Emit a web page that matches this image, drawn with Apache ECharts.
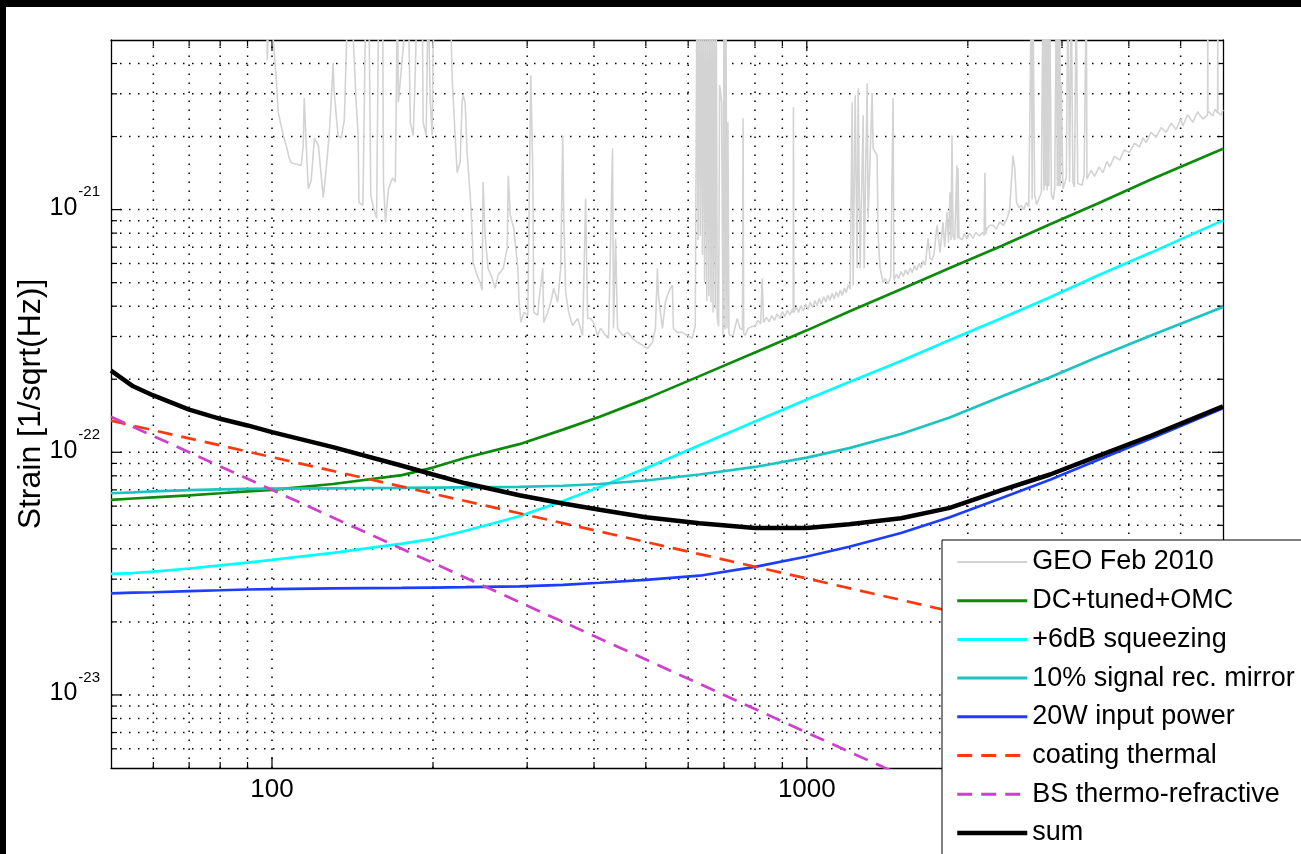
<!DOCTYPE html>
<html>
<head>
<meta charset="utf-8">
<title>GEO sensitivity curves</title>
<script src="https://cdn.jsdelivr.net/npm/echarts@6/dist/echarts.min.js"></script>
<style>
  html, body { margin: 0; padding: 0; background: #fff; }
  #chart { width: 1301px; height: 854px; }
</style>
</head>
<body>
<div id="chart"></div>
<script>
// Strain values are stored in units of 1e-22 /sqrt(Hz); frequencies in Hz.
const STRAIN_UNIT = 1e-22;

const seriesNames = [
  'GEO Feb 2010', 'DC+tuned+OMC', '+6dB squeezing', '10% signal rec. mirror',
  '20W input power', 'coating thermal', 'BS thermo-refractive', 'sum'
];

// Frequency grid shared by the modelled noise curves
const modelFreq = [50, 55, 60, 70, 80, 90, 100, 130, 175, 200, 230, 290, 350, 410, 500, 630,
  800, 1000, 1200, 1500, 1850, 2300, 2850, 3500, 4400, 6000];

const dcTunedOmc = [0.637, 0.645, 0.652, 0.665, 0.678, 0.69, 0.70, 0.74, 0.805, 0.865, 0.95, 1.08,
  1.24, 1.40, 1.66, 2.06, 2.58, 3.18, 3.8, 4.7, 5.75, 7.05, 8.7, 10.6, 13.3, 17.8];

const squeezing6dB = [0.3155, 0.318, 0.322, 0.332, 0.342, 0.351, 0.36, 0.385, 0.42, 0.44, 0.475, 0.545,
  0.63, 0.72, 0.86, 1.07, 1.34, 1.65, 1.95, 2.38, 2.9, 3.55, 4.35, 5.35, 6.65, 9.03];

const srm10 = [0.678, 0.684, 0.69, 0.698, 0.703, 0.706, 0.708, 0.71, 0.713, 0.715, 0.717, 0.72,
  0.728, 0.74, 0.765, 0.81, 0.87, 0.95, 1.04, 1.19, 1.39, 1.69, 2.04, 2.47, 3.03, 3.97];

const inputPower20W = [0.262, 0.264, 0.265, 0.268, 0.27, 0.272, 0.273, 0.275, 0.276, 0.277, 0.278, 0.28,
  0.284, 0.29, 0.298, 0.31, 0.337, 0.372, 0.408, 0.465, 0.54, 0.645, 0.77, 0.93, 1.14, 1.52];

const sumNoise = [2.17, 1.87, 1.715, 1.50, 1.374, 1.29, 1.211, 1.05, 0.88, 0.81, 0.745, 0.665,
  0.615, 0.58, 0.54, 0.51, 0.488, 0.487, 0.505, 0.535, 0.59, 0.695, 0.81, 0.965, 1.17, 1.545];

// Straight power laws on log-log axes: [frequency, strain]
const coatingThermal = [[50, 1.35], [100, 0.955], [200, 0.675], [500, 0.427], [1000, 0.302], [2000, 0.213], [6000, 0.123]];
const bsThermoRefractive = [[50, 1.40], [100, 0.70], [200, 0.35], [500, 0.14], [1000, 0.070], [1500, 0.0467]];

// Measured GEO spectrum, February 2010: [frequency, strain]
const geoFeb2010 = [
  [97.6, 80], [98.0, 41.3], [98.9, 80], [101.9, 34.1], [102.7, 25.2], [105.0, 20.2], [106.3, 18.4],
  [107.7, 16.3], [108.6, 15.6], [113.4, 15.2], [114.4, 18.4], [114.9, 28.8], [115.9, 18.4], [116.9, 12.2],
  [118.4, 13.2], [120.0, 19.7], [122.1, 18.4], [124.7, 11.2], [126.3, 14.8], [127.9, 20.2], [129.0, 27.7],
  [130.1, 40.3], [130.7, 30.4], [132.9, 20.2], [134.7, 19.7], [136.5, 23.3], [138.8, 80], [140.6, 80],
  [143.6, 28.2], [144.9, 20.2], [145.4, 10.7], [147.9, 10.4], [149.8, 80], [151.7, 80], [153.0, 11.5],
  [154.9, 10.1], [156.9, 9.21], [158.3, 80], [161.0, 80], [161.6, 13.0], [163.0, 8.86], [165.1, 12.2],
  [168.0, 13.5], [170.1, 13.0], [171.6, 80], [172.3, 27.7], [179.8, 80], [181.4, 22.9], [183.7, 20.2],
  [185.3, 36.8], [186.9, 80], [190.9, 80], [191.7, 22.9], [194.2, 20.2], [195.9, 80], [197.6, 27.7],
  [199.3, 20.2], [200.1, 47.6], [203.6, 80], [215.3, 80], [217.2, 34.8], [220.0, 20.2], [221.9, 14.2],
  [224.8, 15.7], [226.7, 27.7], [227.7, 29.6], [229.7, 27.7], [231.6, 17.2], [234.7, 11.5], [236.7, 8.06],
  [237.7, 6.06], [241.8, 5.36], [245.0, 5.01], [247.1, 4.65], [248.1, 13.0], [250.3, 7.83], [253.5, 5.73],
  [258.0, 5.21], [261.3, 4.74], [264.7, 5.36], [270.6, 5.73], [275.3, 6.92], [276.6, 13.8], [279.0, 9.47],
  [283.2, 8.37], [288.2, 5.73], [289.5, 4.31], [292.0, 3.43], [295.8, 3.77], [300.8, 3.67], [304.7, 35.8],
  [307.3, 14.8], [308.6, 3.77], [314.0, 3.67], [315.3, 4.15], [320.8, 5.73], [322.2, 3.43], [327.8, 3.77],
  [332.0, 4.15], [336.3, 4.74], [342.2, 4.15], [346.6, 5.73], [349.6, 20.2], [351.1, 9.47], [354.1, 4.56],
  [358.7, 3.77], [364.9, 3.33], [372.8, 3.56], [380.9, 3.03], [385.8, 11.1], [389.2, 3.56], [394.2, 3.56],
  [399.3, 3.43], [406.2, 3.03], [411.5, 3.24], [420.4, 3.03], [425.9, 2.95], [433.2, 17.9], [435.1, 3.24],
  [438.9, 7.61], [442.7, 3.24], [452.3, 3.03], [462.1, 3.12], [472.1, 2.95], [482.4, 2.84], [492.8, 2.76],
  [503.5, 2.68], [514.4, 2.84], [521.1, 3.24], [525.6, 5.73], [527.9, 4.43], [537.0, 3.24], [544.0, 4.15],
  [548.7, 4.43], [555.8, 4.74], [560.6, 4.87], [563.0, 3.24], [572.8, 3.12], [585.2, 3.12], [597.7, 3.03],
  [610.7, 2.95], [618.6, 3.33],
  [621, 3.3], [623, 80], [626, 7.5], [629, 80], [632, 7.8], [635, 80], [638, 6.5], [641, 80], [644, 5.0],
  [647, 80], [650, 4.2], [653, 80], [656, 4.4], [659, 80], [662, 4.15], [665, 80], [668, 3.77], [671, 80],
  [674, 3.9], [677, 80], [680, 3.6], [684, 3.3], [687, 32.6], [690, 30], [693, 27.7], [697, 3.03], [700, 80],
  [703, 3.2], [706, 80], [709, 3.24], [712, 22.9], [715, 3.1], [719, 3.03], [728, 3.03], [741, 3.56],
  [750, 3.24], [758, 3.2], [760, 23.8], [762, 3.1], [767, 3.03], [777, 3.24], [790, 3.3],
  [800, 3.3], [810, 3.5], [820, 3.38], [825, 5.21], [830, 3.42], [840, 3.6], [850, 3.45], [860, 3.66],
  [870, 3.5], [880, 3.72], [890, 3.56], [900, 3.8], [910, 3.62], [920, 3.85], [930, 3.68], [940, 3.9],
  [943, 3.75], [944, 26.4], [946, 3.78], [955, 3.97], [965, 3.77], [975, 4.02], [985, 3.82], [995, 4.08],
  [1005, 3.88], [1015, 4.15], [1025, 3.95], [1035, 4.22], [1045, 4.02], [1055, 4.30], [1065, 4.08],
  [1075, 4.38], [1085, 4.16], [1095, 4.45], [1105, 4.22], [1115, 4.52], [1125, 4.28], [1135, 4.58],
  [1145, 4.35], [1155, 4.66], [1165, 4.43], [1175, 4.75], [1185, 4.55], [1195, 4.9], [1205, 4.7],
  [1215.6, 27.7], [1220.8, 4.87], [1231.4, 29.6], [1242, 5.73], [1247.3, 31.6], [1258.1, 5.73],
  [1274.4, 24.5], [1279.9, 5.73], [1296.5, 33.2], [1302.1, 9.21], [1324.6, 30.2], [1330.3, 17.9],
  [1353.3, 16.7], [1359.1, 7.83], [1370.8, 5.73], [1388.6, 5.01],
  [1400, 5.2], [1418.7, 4.95], [1435, 5.3], [1449.6, 28.8], [1455, 5.1], [1470, 5.42], [1485, 5.2],
  [1500, 5.55], [1515, 5.3], [1530, 5.65], [1545, 5.4], [1560, 5.75], [1575, 5.5], [1590, 5.88],
  [1605, 5.62], [1620, 6.0], [1635, 5.75], [1650, 6.15], [1665, 5.9], [1685.4, 7.61], [1700, 6.30],
  [1715, 6.2], [1730, 6.6], [1751.6, 8.62], [1774.4, 6.67], [1797.4, 8.86], [1810, 7.0], [1828.6, 9.75],
  [1840, 7.3], [1852.3, 11.8], [1860, 7.5], [1868.3, 20.2], [1876.3, 7.83], [1890, 7.5], [1908.8, 15.2],
  [1913, 7.6], [1917, 14.8], [1925, 7.7], [1933.5, 7.83], [1950, 7.5], [1970, 7.95], [1992, 7.6],
  [2015, 8.0], [2044, 7.61], [2070, 8.05], [2100, 7.8], [2134, 8.06], [2145, 7.8], [2152.7, 14.2],
  [2160, 7.9], [2171, 8.37], [2199, 8.62],
  [2229.6, 8.62], [2260, 8.3], [2294, 8.9], [2330, 8.6], [2370, 9.2], [2396, 10.1], [2429, 16.7],
  [2448, 14.8], [2467, 10.7], [2490, 10.2], [2519, 10.4], [2545, 10.0], [2573, 10.7], [2600, 10.3],
  [2629, 80], [2638, 11], [2647, 80], [2667, 11.5], [2690, 10.5], [2705, 10.7], [2745, 11.8], [2764, 80],
  [2775, 12], [2785, 80], [2795, 12.5], [2805, 80], [2815, 12], [2825, 80], [2835, 12.5], [2845, 80],
  [2866, 11.5], [2890, 11.0], [2907, 12.2], [2928, 80], [2940, 12.5], [2950, 80], [2960, 12.5], [2970, 80],
  [2980, 12.5], [2991, 33.5], [3012, 12.2], [3035, 12.0], [3056, 13.5], [3078, 80], [3100, 13], [3122, 80],
  [3144, 13.0], [3165, 12.4], [3190, 80], [3210, 12.8], [3236, 13.0],
  [3270, 12.6], [3300, 13.9], [3331, 80], [3340, 13.4], [3354, 13.2], [3400, 14.5], [3452, 13.7],
  [3520, 15.0], [3578, 14.2], [3640, 15.8], [3684, 15.0], [3760, 16.6], [3847, 16.0], [3920, 17.6],
  [4010, 17.2], [4100, 18.8], [4189, 18.1], [4250, 19.8], [4311, 18.9], [4400, 20.8], [4500, 19.9],
  [4600, 21.8], [4698, 20.8], [4800, 22.7], [4904, 21.4], [5000, 23.6], [5046, 22.1], [5150, 24.6],
  [5268, 22.9], [5380, 25.3], [5500, 23.6], [5615, 24.5], [5619, 80], [5623, 25.5], [5741, 24.3],
  [5800, 25.9], [5862, 25.0], [5866, 80], [5870, 25.2], [5951, 24.5], [6000, 25.8]
];

// Axis ticks
const xMajorTicks = [100, 1000];
const xMinorTicks = [60, 70, 80, 90, 200, 300, 400, 500, 600, 700, 800, 900, 2000, 3000, 4000, 5000];
const xTickLabels = { 100: '100', 1000: '1000' };
const yMajorTicks = [0.1, 1, 10];
const yMinorTicks = [0.06, 0.07, 0.08, 0.09, 0.2, 0.3, 0.4, 0.5, 0.6, 0.7, 0.8, 0.9,
  2, 3, 4, 5, 6, 7, 8, 9, 20, 30, 40];
const yTickLabels = { 0.1: '-23', 1: '-22', 10: '-21' };

const FONT = '"Liberation Sans", Arial, Helvetica, sans-serif';
const X_MIN = 50, X_MAX = 6000, Y_MIN = 0.05, Y_MAX = 50;

const zip = (fs, vs) => fs.map((f, i) => [f, vs[i]]);

function lineSeries(name, data, color, width, dash) {
  return {
    name, type: 'line', data,
    symbol: 'none', showSymbol: false, silent: true, clip: true,
    itemStyle: { color },
    lineStyle: { color, width, type: dash || 'solid', cap: 'butt' },
    emphasis: { disabled: true },
    z: 3
  };
}

// Line widths used for the legend samples
const legendLineWidths = [2, 3, 3, 3, 3, 3, 3, 4.5];

const dotStyle = { stroke: '#000', lineWidth: 1.5, lineDash: [1.5, 7.5] };
const tickStyle = { stroke: '#000', lineWidth: 1.2 };

// Dotted grid and inward ticks on all four sides (decades plus 2..9 subdivisions)
function renderVerticalGrid(params, api) {
  const cs = params.coordSys;
  const f = api.value(0);
  const x = api.coord([f, 1])[0];
  const len = xMajorTicks.includes(f) ? 11 : 6;
  const top = cs.y, bottom = cs.y + cs.height;
  return { type: 'group', children: [
    { type: 'line', shape: { x1: x, y1: bottom, x2: x, y2: top }, style: dotStyle },
    { type: 'line', shape: { x1: x, y1: bottom, x2: x, y2: bottom - len }, style: tickStyle },
    { type: 'line', shape: { x1: x, y1: top, x2: x, y2: top + len }, style: tickStyle }
  ]};
}
function renderHorizontalGrid(params, api) {
  const cs = params.coordSys;
  const v = api.value(1);
  const y = api.coord([100, v])[1];
  const len = yMajorTicks.includes(v) ? 11 : 6;
  const left = cs.x, right = cs.x + cs.width;
  return { type: 'group', children: [
    { type: 'line', shape: { x1: left, y1: y, x2: right, y2: y }, style: dotStyle },
    { type: 'line', shape: { x1: left, y1: y, x2: left + len, y2: y }, style: tickStyle },
    { type: 'line', shape: { x1: right, y1: y, x2: right - len, y2: y }, style: tickStyle }
  ]};
}

const axisLineStyle = { show: true, lineStyle: { color: '#000', width: 1.3 } };

const chart = echarts.init(document.getElementById('chart'), null, { renderer: 'canvas' });
chart.setOption({
  animation: false,
  backgroundColor: '#fff',
  textStyle: { fontFamily: FONT },
  grid: { left: 111, top: 40, right: 78, bottom: 86, outerBoundsMode: 'none', containLabel: false },
  graphic: [
    { type: 'rect', shape: { x: 0, y: 0, width: 1301, height: 7 }, style: { fill: '#000' }, silent: true },
    { type: 'rect', shape: { x: 0, y: 0, width: 6, height: 854 }, style: { fill: '#000' }, silent: true }
  ],
  xAxis: [
    {
      type: 'log', logBase: 10, min: X_MIN, max: X_MAX, position: 'bottom',
      axisLine: axisLineStyle, axisTick: { show: false }, splitLine: { show: false },
      axisLabel: {
        margin: 9, fontSize: 26, color: '#000', fontFamily: FONT,
        showMinLabel: false, showMaxLabel: false,
        formatter: v => xTickLabels[Math.round(v)] || ''
      }
    },
    {
      type: 'log', logBase: 10, min: X_MIN, max: X_MAX, position: 'top',
      axisLine: axisLineStyle, axisTick: { show: false }, splitLine: { show: false },
      axisLabel: { show: false }
    }
  ],
  yAxis: [
    {
      type: 'log', logBase: 10, min: Y_MIN, max: Y_MAX, position: 'left',
      axisLine: axisLineStyle, axisTick: { show: false }, splitLine: { show: false },
      name: 'Strain [1/sqrt(Hz)]', nameLocation: 'middle', nameGap: 64, nameRotate: 90,
      nameMoveOverlap: false,
      nameTextStyle: { fontSize: 32, color: '#000', fontFamily: FONT },
      axisLabel: {
        margin: 11, color: '#000', fontFamily: FONT,
        showMinLabel: false, showMaxLabel: false,
        padding: [0, 0, 14, 0],
        formatter: v => {
          const key = Object.keys(yTickLabels).find(k => Math.abs(+k - v) < 1e-9 * Math.max(1, v));
          return key ? '{b|10}{s|' + yTickLabels[key] + '}' : '';
        },
        rich: {
          b: { fontSize: 25, lineHeight: 36, verticalAlign: 'bottom', color: '#000', fontFamily: FONT },
          s: { fontSize: 15, lineHeight: 15, verticalAlign: 'top', color: '#000', fontFamily: FONT, padding: [0, 0, 0, 1] }
        }
      }
    },
    {
      type: 'log', logBase: 10, min: Y_MIN, max: Y_MAX, position: 'right',
      axisLine: axisLineStyle, axisTick: { show: false }, splitLine: { show: false },
      axisLabel: { show: false }
    }
  ],
  legend: {
    orient: 'vertical', left: 942, top: 540, height: 420,
    data: seriesNames.map((name, i) => ({ name, lineStyle: { width: legendLineWidths[i] } })),
    selectedMode: false,
    itemWidth: 70, itemHeight: 12, itemGap: 10.7,
    padding: [8, 14, 20, 13],
    backgroundColor: '#fff', borderColor: '#000', borderWidth: 1, borderRadius: 0,
    itemStyle: { opacity: 0, borderWidth: 0 },
    textStyle: { fontSize: 27, color: '#000', fontFamily: FONT, lineHeight: 28 },
    z: 10
  },
  series: [
    {
      type: 'custom', silent: true, z: 1, clip: false,
      data: xMajorTicks.concat(xMinorTicks).map(f => [f, 1]),
      encode: { x: 0, y: 1 },
      renderItem: renderVerticalGrid
    },
    {
      type: 'custom', silent: true, z: 1, clip: false,
      data: yMajorTicks.concat(yMinorTicks).map(v => [100, v]),
      encode: { x: 0, y: 1 },
      renderItem: renderHorizontalGrid
    },
    lineSeries(seriesNames[0], geoFeb2010, '#d3d3d3', 1.6),
    lineSeries(seriesNames[1], zip(modelFreq, dcTunedOmc), '#0b8a0b', 2.7),
    lineSeries(seriesNames[2], zip(modelFreq, squeezing6dB), '#00ffff', 2.7),
    lineSeries(seriesNames[3], zip(modelFreq, srm10), '#1cc3c3', 2.7),
    lineSeries(seriesNames[4], zip(modelFreq, inputPower20W), '#1c3cff', 2.7),
    lineSeries(seriesNames[5], coatingThermal, '#ff3810', 2.7, [15, 9]),
    lineSeries(seriesNames[6], bsThermoRefractive, '#cc40cc', 2.7, [15, 9]),
    lineSeries(seriesNames[7], zip(modelFreq, sumNoise), '#000000', 4.5)
  ]
});
</script>
</body>
</html>
